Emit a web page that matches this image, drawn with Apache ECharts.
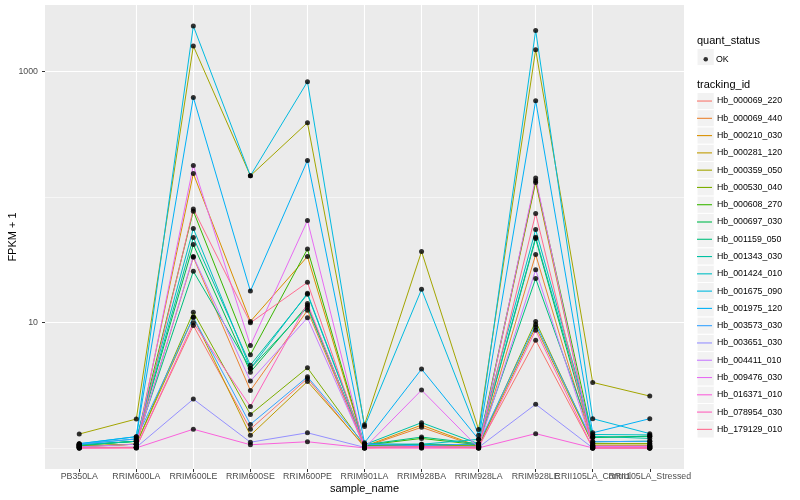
<!DOCTYPE html>
<html><head><meta charset="utf-8">
<script src="https://cdn.jsdelivr.net/npm/echarts@6/dist/echarts.min.js"></script>
<style>html,body{margin:0;padding:0;background:#fff}#c{width:800px;height:500px}</style>
</head><body><div id="c"></div>
<script>
// ---- data ----
const categories = ['PB350LA','RRIM600LA','RRIM600LE','RRIM600SE','RRIM600PE','RRIM901LA','RRIM928BA','RRIM928LA','RRIM928LE','RRII105LA_Control','RRII105LA_Stressed'];
const trackingIds = ['Hb_000069_220','Hb_000069_440','Hb_000210_030','Hb_000281_120','Hb_000359_050','Hb_000530_040','Hb_000608_270','Hb_000697_030','Hb_001159_050','Hb_001343_030','Hb_001424_010','Hb_001675_090','Hb_001975_120','Hb_003573_030','Hb_003651_030','Hb_004411_010','Hb_009476_030','Hb_016371_010','Hb_078954_030','Hb_179129_010'];
const quantStatus = ['OK'];
const yLabelValues = [10, 1000];

const Hb_000069_220 = [1.01, 1.01, 9.46, 1.41, 3.58, 1.01, 1.03, 1.02, 7.22, 1.0, 1.0];
const Hb_000069_440 = [1.02, 1.07, 33.1, 2.87, 12.5, 1.02, 1.46, 1.02, 34.8, 1.04, 1.04];
const Hb_000210_030 = [1.03, 1.07, 154, 10.2, 33.6, 1.03, 1.52, 1.03, 131, 1.04, 1.04];
const Hb_000281_120 = [1.03, 1.07, 11.0, 1.26, 3.39, 1.03, 1.05, 1.03, 9.21, 1.08, 1.08];
const Hb_000359_050 = [1.29, 1.70, 1603, 148, 392, 1.53, 36.8, 1.40, 1497, 3.33, 2.59];
const Hb_000530_040 = [1.04, 1.07, 12.1, 1.85, 4.35, 1.04, 1.05, 1.04, 10.2, 1.08, 1.08];
const Hb_000608_270 = [1.05, 1.13, 77.3, 5.53, 38.5, 1.05, 1.19, 1.06, 135, 1.21, 1.24];
const Hb_000697_030 = [1.05, 1.13, 41.8, 4.02, 13.7, 1.05, 1.07, 1.06, 46.7, 1.12, 1.13];
const Hb_001159_050 = [1.05, 1.13, 25.6, 4.30, 13.2, 1.06, 1.22, 1.08, 22.4, 1.21, 1.24];
const Hb_001343_030 = [1.06, 1.13, 47.6, 4.57, 16.8, 1.06, 1.59, 1.08, 47.8, 1.24, 1.19];
const Hb_001424_010 = [1.07, 1.18, 56.1, 4.30, 17.1, 1.08, 1.07, 1.17, 55.1, 1.28, 1.27];
const Hb_001675_090 = [1.08, 1.23, 2313, 148, 832, 1.48, 18.4, 1.26, 2133, 1.71, 1.30];
const Hb_001975_120 = [1.08, 1.23, 624, 17.8, 196, 1.10, 4.25, 1.17, 587, 1.32, 1.71];
const Hb_003573_030 = [1.07, 1.18, 11.0, 1.54, 3.69, 1.07, 1.04, 1.08, 9.64, 1.12, 1.13];
const Hb_003651_030 = [1.01, 1.01, 2.45, 1.11, 1.32, 1.01, 1.01, 1.01, 2.23, 1.0, 1.0];
const Hb_004411_010 = [1.02, 1.07, 33.6, 3.41, 10.9, 1.02, 1.02, 1.02, 26.3, 1.03, 1.03];
const Hb_009476_030 = [1.0, 1.01, 179, 6.56, 65, 1.0, 2.89, 1.0, 142, 1.03, 1.03];
const Hb_016371_010 = [1.0, 1.0, 1.41, 1.06, 1.12, 1.0, 1.0, 1.0, 1.30, 1.0, 1.0];
const Hb_078954_030 = [1.0, 1.01, 9.95, 2.14, 14.2, 1.0, 1.0, 1.0, 8.68, 1.0, 1.0];
const Hb_179129_010 = [1.0, 1.0, 80.5, 9.95, 20.9, 1.0, 1.03, 1.0, 73.9, 1.0, 1.0];

const seriesValues = [Hb_000069_220, Hb_000069_440, Hb_000210_030, Hb_000281_120, Hb_000359_050, Hb_000530_040, Hb_000608_270, Hb_000697_030, Hb_001159_050, Hb_001343_030, Hb_001424_010, Hb_001675_090, Hb_001975_120, Hb_003573_030, Hb_003651_030, Hb_004411_010, Hb_009476_030, Hb_016371_010, Hb_078954_030, Hb_179129_010];

// ---- style ----
const palette = ['#F8766D','#EA8331','#D89000','#C09B00','#A3A500','#7CAE00','#39B600','#00BB4E','#00BF7D','#00C1A3','#00BFC4','#00BAE0','#00B0F6','#35A2FF','#9590FF','#C77CFF','#E76BF3','#FA62DB','#FF62BC','#FF6C91'];
const FONT = 'Liberation Sans, Arial, Helvetica, sans-serif';
const yMin = 0.679, yMax = 3404;

const lineSeries = trackingIds.map((id, k) => ({
  name: id, type: 'line', symbol: 'none', z: 2,
  color: palette[k],
  lineStyle: { color: palette[k], width: 1 },
  data: seriesValues[k].map((v, i) => [i, v]),
  silent: true
}));
const pointData = [];
seriesValues.forEach(arr => arr.forEach((v, i) => pointData.push([i, v])));
const pointSeries = {
  name: quantStatus[0], type: 'scatter', symbol: 'circle', symbolSize: 5, z: 5,
  itemStyle: { color: '#000' }, data: pointData, silent: true
};

const catIdx = categories.map((c, i) => i);
const keyGraphics = [];
const KEY = 17.28, keyX = 697, firstKeyTop = 92.4;
trackingIds.forEach((id, i) => keyGraphics.push({
  type: 'rect', shape: { x: keyX, y: firstKeyTop + KEY * i, width: KEY, height: KEY },
  style: { fill: '#F2F2F2', stroke: '#fff', lineWidth: 1 }, z: 0, silent: true
}));
keyGraphics.push({ type: 'rect', shape: { x: keyX, y: 48.4, width: KEY, height: KEY },
  style: { fill: '#F2F2F2', stroke: '#fff', lineWidth: 1 }, z: 0, silent: true });
keyGraphics.push({ type: 'text', x: 697, y: 41, style: { text: 'quant_status', fill: '#000', font: '11px ' + FONT, verticalAlign: 'middle' }, silent: true });
keyGraphics.push({ type: 'text', x: 697, y: 84.5, style: { text: 'tracking_id', fill: '#000', font: '11px ' + FONT, verticalAlign: 'middle' }, silent: true });

const isMajor = v => { const l = Math.log10(v), r = Math.round(l); return Math.abs(l - r) < 1e-6 && yLabelValues.indexOf(Math.pow(10, r)) >= 0; };

const chart = echarts.init(document.getElementById('c'), null, { renderer: 'canvas' });
chart.setOption({
  animation: false,
  backgroundColor: '#fff',
  textStyle: { fontFamily: FONT },
  grid: { left: 45, right: 116, top: 5, bottom: 31, show: true, backgroundColor: '#EBEBEB', borderWidth: 0, containLabel: false, outerBoundsMode: 'none' },
  xAxis: {
    type: 'value', min: -0.6, max: categories.length - 0.4, splitNumber: categories.length,
    name: 'sample_name', nameLocation: 'middle', nameGap: 14, nameMoveOverlap: false,
    nameTextStyle: { fontSize: 11, color: '#000', fontFamily: FONT },
    axisLine: { show: false, onZero: false },
    axisTick: { show: true, length: 3, lineStyle: { color: '#333', width: 1 }, customValues: catIdx },
    axisLabel: { fontSize: 8.8, color: '#4D4D4D', margin: 3, fontFamily: FONT, hideOverlap: false,
      formatter: v => (Math.abs(v - Math.round(v)) < 1e-6 && categories[Math.round(v)]) ? categories[Math.round(v)] : '' },
    splitLine: { show: true, showMinLine: false, showMaxLine: false, lineStyle: { color: '#fff', width: 1.1 } }
  },
  yAxis: [
    { type: 'log', logBase: 10, min: yMin, max: yMax,
      name: 'FPKM + 1', nameLocation: 'middle', nameGap: 27, nameMoveOverlap: false,
      nameTextStyle: { fontSize: 11, color: '#000', fontFamily: FONT },
      axisLine: { show: false, onZero: false },
      axisTick: { show: true, length: 3, lineStyle: { color: '#333', width: 1 }, customValues: yLabelValues },
      axisLabel: { customValues: yLabelValues, fontSize: 8.8, color: '#4D4D4D', margin: 7, fontFamily: FONT,
        formatter: v => isMajor(v) ? String(Math.round(v)) : '' },
      splitLine: { show: false } },
    { type: 'log', logBase: 10, min: yMin, max: yMax, position: 'left',
      axisLine: { show: false, onZero: false }, axisTick: { show: false }, axisLabel: { show: false },
      splitLine: { show: true, showMinLine: false, showMaxLine: false, lineStyle: { color: ['rgba(255,255,255,0.55)', '#ffffff'], width: 1.1 } } }
  ],
  legend: [
    { orient: 'vertical', left: 697, top: firstKeyTop, padding: 0, itemGap: 0, itemWidth: 15, itemHeight: KEY,
      icon: 'path://M0,0 H15 V1.1 H0 Z', itemStyle: { borderWidth: 0 },
      data: trackingIds, selectedMode: false,
      textStyle: { fontSize: 8.8, lineHeight: KEY, color: '#000', fontFamily: FONT } },
    { orient: 'vertical', left: 703.5, top: 54.75, padding: 0, itemWidth: 4.5, itemHeight: 4.5,
      icon: 'circle', itemStyle: { borderWidth: 0 },
      data: quantStatus, selectedMode: false,
      textStyle: { fontSize: 8.8, color: '#000', fontFamily: FONT, padding: [0, 0, 0, 3] } }
  ],
  graphic: keyGraphics,
  series: lineSeries.concat([pointSeries])
});
</script>
</body></html>
